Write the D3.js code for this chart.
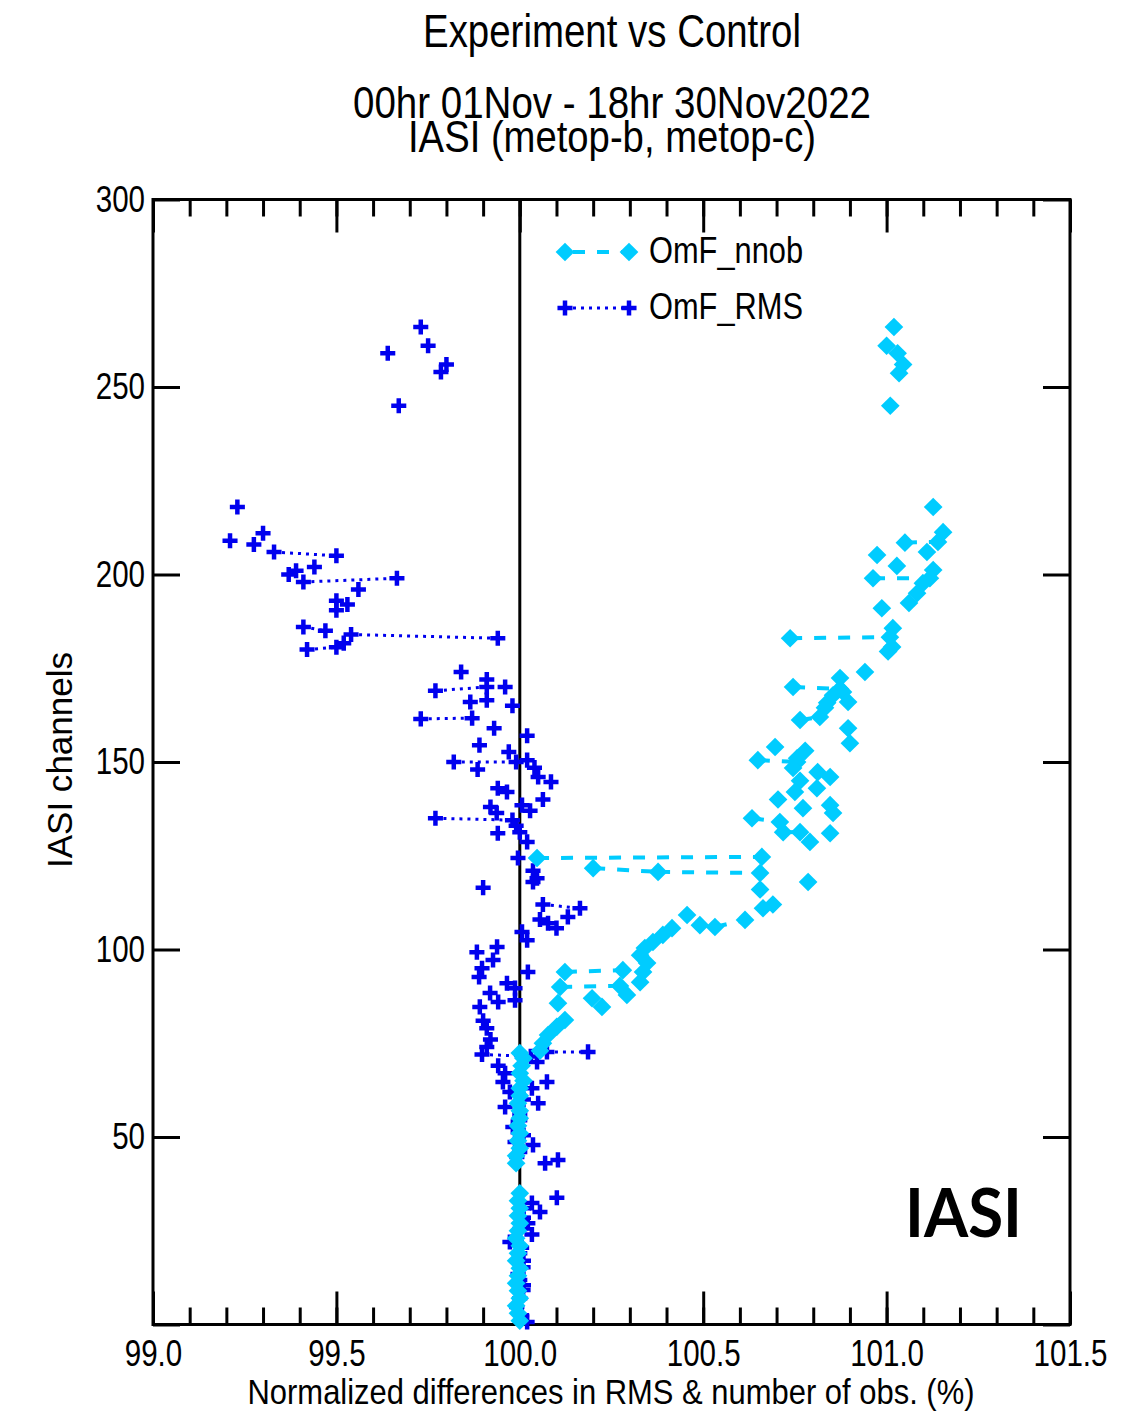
<!DOCTYPE html>
<html>
<head>
<meta charset="utf-8">
<script src="https://cdn.jsdelivr.net/npm/d3@7"></script>
<style>
  body { margin: 0; background: #fff; }
  svg { display: block; }
  text { font-family: "Liberation Sans", Arial, sans-serif; fill: #000; }
</style>
</head>
<body>
<div id="chart"></div>
<script>
// [channel, value in %, join] -- join = 1 draws a line from the previous point
const nnobPoints = [
  [266, 101.02], [261, 101.00], [259, 101.03], [256, 101.045], [253.7, 101.034], [245, 101.01],
  [218, 101.127], [211.3, 101.154], [208.5, 101.05], [208.7, 101.14, 1], [206, 101.11], [205.2, 100.974],
  [202.3, 101.028], [201.2, 101.127], [199, 100.963], [199, 101.118, 1], [197.7, 101.099], [195, 101.083],
  [192.4, 101.061], [191, 100.987], [185.7, 101.017], [183, 100.737], [183.3, 101.009, 1], [180.7, 101.015],
  [179.5, 101.004], [174, 100.941], [172.4, 100.873], [170, 100.745], [169.5, 100.873, 1], [168.7, 100.881],
  [167.8, 100.854], [166, 100.895], [165.8, 100.838], [164.5, 100.832], [161.2, 100.764], [162, 100.818, 1],
  [159, 100.895], [155, 100.90], [154, 100.696], [153, 100.778], [151, 100.756], [150.5, 100.649],
  [150, 100.756, 1], [148.4, 100.745], [147.3, 100.812], [146, 100.846], [145, 100.764], [143, 100.81],
  [142, 100.75], [140, 100.704], [138.5, 100.846], [137.7, 100.772], [136.4, 100.854], [135, 100.633],
  [134, 100.709, 1], [131.3, 100.718], [131.3, 100.764, 1], [131, 100.846], [128.7, 100.791],
  [124.4, 100.047], [124.7, 100.66, 1], [121.7, 100.20], [120.7, 100.377, 1], [120.4, 100.655, 1],
  [118, 100.786], [116, 100.655], [112, 100.69], [111, 100.663], [109.2, 100.456], [106, 100.532],
  [107.9, 100.614, 1], [106.5, 100.491], [105.7, 100.415], [103.9, 100.39], [102, 100.363], [100.4, 100.341],
  [98.5, 100.328], [96.4, 100.347], [94, 100.336], [94, 100.123], [94.5, 100.281, 1], [91.3, 100.328],
  [90, 100.11], [90.3, 100.273, 1], [87.9, 100.292], [87, 100.197], [85.7, 100.104], [84.7, 100.224],
  [81.2, 100.123], [79.4, 100.101], [77.2, 100.077], [75, 100.063], [73, 100.055], [72.4, 100.0],
  [71, 100.01], [69, 100.005], [67, 100.0], [65, 100.01], [63, 100.0], [61, 100.0], [59, 99.995],
  [57, 100.0], [55, 100.0], [53, 99.995], [51, 100.0], [49, 99.995], [47, 100.0], [45, 99.99], [43, 99.99],
  [35, 100.0], [33, 99.995], [31, 100.0], [29, 99.995], [27, 100.0], [25, 99.995], [23, 99.99], [21, 100.0],
  [19, 99.995], [17, 99.99], [15, 100.0], [13, 99.995], [11, 99.99], [9, 99.995], [7, 100.0], [5, 99.99],
  [3, 99.995], [1, 100.0]
];

const rmsPoints = [
  [266, 99.73], [261, 99.75], [259, 99.64], [256, 99.80], [254, 99.785], [245, 99.67],
  [218, 99.23], [211, 99.30], [209, 99.21], [208, 99.275], [206, 99.33], [205, 99.50, 1],
  [202, 99.44], [201, 99.39], [200, 99.37], [198, 99.41], [199, 99.665, 1],
  [196, 99.56], [193, 99.50], [192, 99.53], [190.5, 99.50],
  [186, 99.41], [185, 99.47, 1], [184, 99.54], [183, 99.94, 1],
  [181.7, 99.52], [180, 99.42], [180.6, 99.50, 1],
  [174, 99.84], [172, 99.91], [170, 99.96], [170, 99.91], [169, 99.77, 1],
  [166.5, 99.91], [166, 99.865], [165, 99.98], [161.5, 99.73], [161.7, 99.87, 1],
  [159, 99.93], [157, 100.02], [154.5, 99.89], [152.7, 99.97],
  [150, 99.82], [150, 99.99, 1], [150.5, 100.02], [148.5, 100.04], [148, 99.885], [146, 100.05],
  [144.7, 100.085], [143, 99.94], [142, 99.965], [140, 100.063], [138.5, 100.006], [138, 99.92],
  [137, 100.028], [136.4, 99.937], [135, 99.77], [134.5, 99.98, 1], [133, 99.99], [131.3, 100.0],
  [131, 99.94], [128.7, 100.02], [124.4, 99.995], [121, 100.036], [119, 100.047], [118, 100.036],
  [116.5, 99.90], [112, 100.063], [111, 100.164, 1], [108.7, 100.131], [108, 100.055], [107, 100.077],
  [105.7, 100.10], [104.7, 100.006], [102.5, 100.02], [100.7, 99.938], [99.3, 99.883], [97.2, 99.927],
  [95, 99.897], [94, 100.022], [92.7, 99.889], [91, 99.965], [89.7, 99.987], [88.4, 99.919],
  [86.5, 99.987], [86, 99.941], [84.7, 99.891], [81, 99.90], [79, 99.91], [76, 99.92], [74, 99.91],
  [72, 99.897], [71.5, 100.03, 1], [72.7, 100.074], [72.7, 100.186, 1],
  [70, 100.047], [69, 99.941], [67, 99.96], [64.7, 99.954], [64.7, 100.074], [63, 100.033], [62, 99.973],
  [60, 100.01], [59, 100.05], [58, 99.96], [56, 100.0], [54.5, 100.0], [52.7, 99.981], [50.5, 100.01],
  [48.7, 99.987], [47.9, 100.036], [46, 100.0], [44.7, 99.992], [43.9, 100.104], [43, 100.069],
  [33.8, 100.101], [32.4, 100.033], [31, 100.01], [30, 100.055], [28.5, 100.01], [27, 100.022],
  [25.5, 100.0], [24, 100.033], [22, 99.973], [20.5, 100.005], [19, 100.0], [17, 100.01], [15.3, 100.009],
  [13.5, 99.995], [11.9, 100.0], [10.5, 100.01], [9.2, 100.009], [7, 100.0], [4.7, 99.992],
  [2.5, 100.005], [0.7, 100.02]
];

const xTicks = [99.0, 99.5, 100.0, 100.5, 101.0, 101.5];
const yTicks = [50, 100, 150, 200, 250, 300];
const titleLines = ['Experiment vs Control', '00hr 01Nov - 18hr 30Nov2022', 'IASI (metop-b, metop-c)'];
const legendNames = ['OmF_nnob', 'OmF_RMS'];

const cyan = '#00ccff';
const blue = '#0000ee';

const width = 1146;
const height = 1417;
const plot = { left: 153, right: 1070, top: 199.5, bottom: 1324.5 };

const svg = d3.select('#chart')
  .append('svg')
  .attr('width', width)
  .attr('height', height);

const xScale = d3.scaleLinear().domain([99, 101.5]).range([plot.left, plot.right]);
const yScale = d3.scaleLinear().domain([0, 300]).range([plot.bottom, plot.top]);

// the original uses a condensed helvetica, squeeze the regular font to match
function condense(sel) {
  sel.each(function () {
    const w = this.getComputedTextLength();
    d3.select(this).attr('textLength', w * 0.82).attr('lengthAdjust', 'spacingAndGlyphs');
  });
}

// titles
const titleY = [47, 118, 152];
const titleW = [378, 518, 408];
svg.selectAll('text.title')
  .data(titleLines)
  .join('text')
  .attr('class', 'title')
  .attr('x', 612)
  .attr('y', (d, i) => titleY[i])
  .attr('text-anchor', 'middle')
  .attr('font-size', (d, i) => i === 0 ? 46 : 44)
  .attr('textLength', (d, i) => titleW[i])
  .attr('lengthAdjust', 'spacingAndGlyphs')
  .text(d => d);

// ticks: minor every 0.1 on x, majors every 0.5
const minorX = d3.range(0, 26).map(i => 99 + i * 0.1);
function styleAxis(g) {
  g.select('.domain').remove();
  g.selectAll('.tick line').attr('stroke', '#000').attr('stroke-width', 3);
  g.selectAll('.tick text').remove();
}
svg.append('g').attr('transform', `translate(0,${plot.top})`)
  .call(d3.axisBottom(xScale).tickValues(minorX).tickSize(17)).call(styleAxis);
svg.append('g').attr('transform', `translate(0,${plot.top})`)
  .call(d3.axisBottom(xScale).tickValues(xTicks).tickSize(33)).call(styleAxis);
svg.append('g').attr('transform', `translate(0,${plot.bottom})`)
  .call(d3.axisTop(xScale).tickValues(minorX).tickSize(17)).call(styleAxis);
svg.append('g').attr('transform', `translate(0,${plot.bottom})`)
  .call(d3.axisTop(xScale).tickValues(xTicks).tickSize(33)).call(styleAxis);
svg.append('g').attr('transform', `translate(${plot.left},0)`)
  .call(d3.axisRight(yScale).tickValues([0].concat(yTicks)).tickSize(27)).call(styleAxis);
svg.append('g').attr('transform', `translate(${plot.right},0)`)
  .call(d3.axisLeft(yScale).tickValues([0].concat(yTicks)).tickSize(27)).call(styleAxis);

// tick labels
const xLabels = svg.append('g').attr('transform', `translate(0,${plot.bottom})`)
  .call(d3.axisBottom(xScale).tickValues(xTicks).tickSize(0).tickPadding(16).tickFormat(d3.format('.1f')));
xLabels.select('.domain').remove();
xLabels.selectAll('text').attr('font-size', 36).attr('font-family', null).attr('fill', '#000').call(condense);

const yLabels = svg.append('g').attr('transform', `translate(${plot.left},0)`)
  .call(d3.axisLeft(yScale).tickValues(yTicks).tickSize(0).tickPadding(8));
yLabels.select('.domain').remove();
yLabels.selectAll('text').attr('font-size', 36).attr('font-family', null).attr('fill', '#000').call(condense);

// frame
svg.append('rect')
  .attr('x', plot.left).attr('y', plot.top)
  .attr('width', plot.right - plot.left).attr('height', plot.bottom - plot.top)
  .attr('fill', 'none').attr('stroke', '#000').attr('stroke-width', 3);

// axis titles
svg.append('text')
  .attr('x', 611).attr('y', 1404)
  .attr('text-anchor', 'middle')
  .attr('font-size', 35)
  .attr('textLength', 727).attr('lengthAdjust', 'spacingAndGlyphs')
  .text('Normalized differences in RMS & number of obs. (%)');

svg.append('text')
  .attr('transform', 'translate(72,760) rotate(-90)')
  .attr('text-anchor', 'middle')
  .attr('font-size', 35)
  .attr('textLength', 216).attr('lengthAdjust', 'spacingAndGlyphs')
  .text('IASI channels');

// reference line at 100 %
svg.append('line')
  .attr('x1', xScale(100)).attr('x2', xScale(100))
  .attr('y1', plot.top).attr('y2', plot.bottom)
  .attr('stroke', '#000').attr('stroke-width', 3);

const line = d3.line().x(d => xScale(d[1])).y(d => yScale(d[0]));
const diamond = d3.symbol(d3.symbolSquare, 175);
const plus = d3.symbol(d3.symbolPlus, 76);

function linksOf(points) {
  const segs = [];
  points.forEach((p, i) => { if (p[2] === 1 && i > 0) segs.push([points[i - 1], p]); });
  return segs;
}

function drawRms(g, points) {
  g.selectAll('path.link')
    .data(linksOf(points))
    .join('path')
    .attr('class', 'link')
    .attr('d', line)
    .attr('fill', 'none').attr('stroke', blue)
    .attr('stroke-width', 3).attr('stroke-dasharray', '3,5');
  g.selectAll('path.mark')
    .data(points)
    .join('path')
    .attr('class', 'mark')
    .attr('transform', d => `translate(${xScale(d[1])},${yScale(d[0])})`)
    .attr('d', plus)
    .attr('fill', 'none').attr('stroke', blue).attr('stroke-width', 4.5);
}

function drawNnob(g, points) {
  g.selectAll('path.link')
    .data(linksOf(points))
    .join('path')
    .attr('class', 'link')
    .attr('d', line)
    .attr('fill', 'none').attr('stroke', cyan)
    .attr('stroke-width', 4).attr('stroke-dasharray', '12,12');
  g.selectAll('path.mark')
    .data(points)
    .join('path')
    .attr('class', 'mark')
    .attr('transform', d => `translate(${xScale(d[1])},${yScale(d[0])}) rotate(45)`)
    .attr('d', diamond)
    .attr('fill', cyan);
}

drawRms(svg.append('g'), rmsPoints);
drawNnob(svg.append('g'), nnobPoints);

// legend
const legend = svg.append('g');
const legendY = [252, 308];
legendNames.forEach((name, i) => {
  const y = legendY[i];
  const col = i === 0 ? cyan : blue;
  legend.append('line')
    .attr('x1', 565).attr('x2', 629).attr('y1', y).attr('y2', y)
    .attr('stroke', col)
    .attr('stroke-width', i === 0 ? 4 : 3)
    .attr('stroke-dasharray', i === 0 ? '12,12' : '3,5')
    .attr('stroke-dashoffset', i === 0 ? -8 : 0);
  [565, 629].forEach(x => {
    if (i === 0) {
      legend.append('path').attr('transform', `translate(${x},${y}) rotate(45)`)
        .attr('d', diamond).attr('fill', cyan);
    } else {
      legend.append('path').attr('transform', `translate(${x},${y})`)
        .attr('d', plus).attr('fill', 'none').attr('stroke', blue).attr('stroke-width', 4.5);
    }
  });
  legend.append('text')
    .attr('x', 649).attr('y', y + 11)
    .attr('font-size', 37)
    .attr('textLength', 154).attr('lengthAdjust', 'spacingAndGlyphs')
    .text(name);
});

// big instrument label
svg.append('text')
  .attr('x', 905).attr('y', 1237)
  .attr('font-size', 66)
  .attr('font-weight', 'bold')
  .style('font-family', 'Lato, "Open Sans", sans-serif')
  .attr('textLength', 117).attr('lengthAdjust', 'spacingAndGlyphs')
  .text('IASI');
</script>
</body>
</html>
